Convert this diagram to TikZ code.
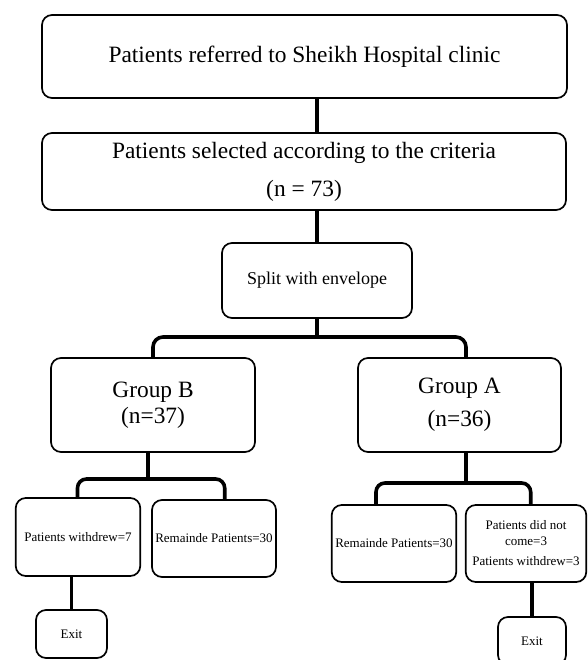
\documentclass[tikz,border=0pt]{standalone}
\usepackage{fontspec}
\setmainfont{Liberation Serif}
\begin{document}
\begin{tikzpicture}[x=1pt,y=-1pt,
  box/.style={draw=black, line width=1.7pt, rounded corners=10pt, align=center, inner sep=2pt, fill=white},
  big/.style={font=\fontsize{23.4}{27}\selectfont},
  mid/.style={font=\fontsize{18}{22}\selectfont},
  small/.style={font=\fontsize{13}{16}\selectfont},
  conn/.style={line width=3.6pt}]
\useasboundingbox (0,0) rectangle (587,660);
% connectors first (behind boxes)
\coordinate (jAB) at (317,337);
\coordinate (jB) at (148,479);
\coordinate (jA) at (466,483);

\node[box,big,minimum width=525pt,minimum height=83pt] (ref) at (304.5,56.5) {Patients referred to Sheikh Hospital clinic};
\node[box,minimum width=524pt,minimum height=77pt,font=\fontsize{23.4}{38}\selectfont] (sel) at (304,171.5) {Patients selected according to the criteria\\(n = 73)};
\node[box,mid,minimum width=190pt,minimum height=75pt] (split) at (317,280.5) {Split with envelope};
\node[box,minimum width=204pt,minimum height=94pt,font=\fontsize{23.4}{26}\selectfont] (gB) at (153,405) {Group B\\(n=37)};
\node[box,minimum width=203pt,minimum height=94pt,font=\fontsize{23.4}{33}\selectfont] (gA) at (459.5,405) {Group A\\(n=36)};
\node[box,small,minimum width=124.5pt,minimum height=78pt] (pw) at (78,537) {Patients withdrew=7};
\node[box,small,minimum width=124pt,minimum height=77pt] (remB) at (214,538.5) {Remainde Patients=30};
\node[box,small,minimum width=71pt,minimum height=48pt] (exL) at (71.5,634) {Exit};
\node[box,small,minimum width=124.5pt,minimum height=77pt] (remA) at (394,543.5) {Remainde Patients=30};
\node[box,small,minimum width=120.5pt,minimum height=77pt] (pdnc) at (526,543.5) {Patients did not\\come=3\\[4pt]Patients withdrew=3};
\node[box,small,minimum width=68pt,minimum height=48pt] (exR) at (532,641) {Exit};

\draw[conn] (ref.south -| split.north) -- (sel.north -| split.north);
\draw[conn] (sel.south -| split.north) -- (split.north);
\draw[conn] (split.south) -- (jAB);
\draw[conn, rounded corners=10pt] (gB.north) |- (jAB) -| ([xshift=6.5pt]gA.north);

\draw[conn] (gB.south -| jB) -- (jB);
\draw[conn, rounded corners=9pt] ([xshift=-0.5pt]pw.north) |- (jB) -| ([xshift=10.7pt]remB.north);

\draw[conn] (gA.south -| jA) -- (jA);
\draw[conn, rounded corners=9pt] ([xshift=-18pt]remA.north) |- (jA) -| ([xshift=4.7pt]pdnc.north);

\draw[conn] (pw.south -| exL.north) -- (exL.north);
\draw[conn] (pdnc.south -| exR.north) -- (exR.north);
\end{tikzpicture}
\end{document}
